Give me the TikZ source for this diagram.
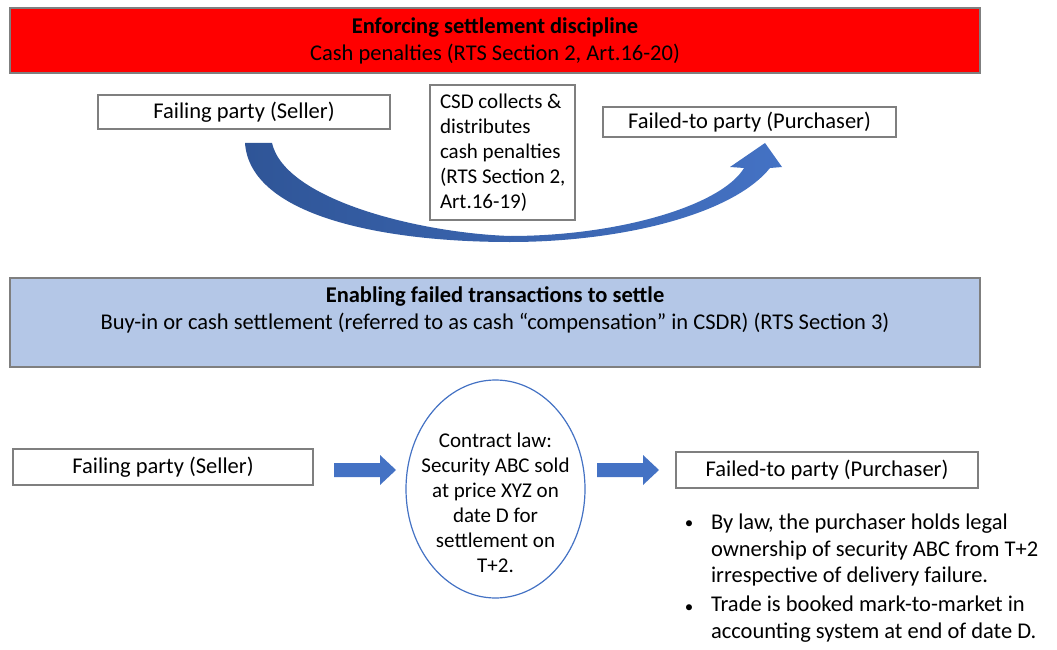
\documentclass[tikz,border=0pt]{standalone}
\usepackage{fontspec}
\setmainfont{Carlito}
\usetikzlibrary{shapes.geometric}
\definecolor{penred}{HTML}{FF0000}
\definecolor{lightblue}{HTML}{B4C7E7}
\definecolor{arrblue}{HTML}{4472C4}
\definecolor{darkblue}{HTML}{2F5597}
\definecolor{boxgray}{HTML}{7F7F7F}
\begin{document}
\begin{tikzpicture}[x=1pt,y=-1pt,
  every node/.style={inner sep=0pt, outer sep=0pt},
  big/.style={font=\fontsize{22.5}{27}\selectfont},
  small/.style={font=\fontsize{21}{25}\selectfont},
  box/.style={draw=boxgray, line width=1.2pt, fill=white},
  banner/.style={draw=boxgray, line width=1.2pt},
  blockarrow/.style={fill=arrblue, draw=none},
  lineitem/.style={big, anchor=west, text height=0.72em, text depth=0.2em},
  dotitem/.style={font=\fontsize{17}{20}\selectfont, anchor=center}]
\useasboundingbox (0,0) rectangle (1057,650);

% top banner
\node[banner, fill=penred, minimum width=970pt, minimum height=65pt] (pen) at (495,40.5) {};
\node[big, align=center] (pentxt) at (495,41) {\textbf{Enforcing settlement discipline}\\Cash penalties (RTS Section 2, Art.16-20)};

% top row
\node[box, big, minimum width=292pt, minimum height=34pt] (fail1) at (244,112) {Failing party (Seller)};
\node[box, minimum width=145pt, minimum height=135pt] (csd) at (502.5,152.5) {};
\node[small, align=left, anchor=west] (csdtxt) at (440,153) {CSD collects \&\\distributes\\cash penalties\\(RTS Section 2,\\Art.16-19)};
\node[box, big, minimum width=293pt, minimum height=30pt] (failto1) at (749.5,122) {Failed-to party (Purchaser)};

% curved ribbon arrow
\shade[left color=darkblue, right color=arrblue]
  (245,143) -- (272,143)
  .. controls (285,200) and (420,233) .. (510,236)
  .. controls (620,236) and (722,205) .. (744,168)
  -- (730,167) -- (765,143) -- (782,167) -- (770,168)
  .. controls (732,215) and (620,242) .. (510,242)
  .. controls (380,242) and (250,215) .. (245,143) -- cycle;

% second banner
\node[banner, fill=lightblue, minimum width=970pt, minimum height=89pt] (buyin) at (495,322.5) {};
\node[big, align=center] (buyintxt) at (495,310) {\textbf{Enabling failed transactions to settle}\\Buy-in or cash settlement (referred to as cash “compensation” in CSDR) (RTS Section 3)};

% bottom row
\node[box, big, minimum width=300pt, minimum height=36pt] (fail2) at (163,467) {Failing party (Seller)};
\node[draw=arrblue, line width=1.2pt, fill=white, ellipse, minimum width=179pt, minimum height=218pt] (law) at (495.5,489) {};
\node[small, align=center] (lawtxt) at (495.5,502.5) {Contract law:\\Security ABC sold\\at price XYZ on\\date D for\\settlement on\\T+2.};
\node[box, big, minimum width=302pt, minimum height=36pt] (failto2) at (827,470) {Failed-to party (Purchaser)};

% block arrows
\fill[blockarrow] (334,463) -- (380,463) -- (380,455) -- (396,470) -- (380,485) -- (380,477) -- (334,477) -- cycle;
\fill[blockarrow] (597,463) -- (643,463) -- (643,455) -- (659,470) -- (643,485) -- (643,477) -- (597,477) -- cycle;

% bullets
\node[dotitem] (d1) at (689,525) {•};
\node[lineitem] (b1a) at (711,527) {By law, the purchaser holds legal};
\node[lineitem] (b1b) at (711,553.5) {ownership of security ABC from T+2};
\node[lineitem] (b1c) at (711,580) {irrespective of delivery failure.};
\node[dotitem] (d2) at (689,609) {•};
\node[lineitem] (b2a) at (711,609) {Trade is booked mark-to-market in};
\node[lineitem] (b2b) at (711,636) {accounting system at end of date D.};
\end{tikzpicture}
\end{document}
